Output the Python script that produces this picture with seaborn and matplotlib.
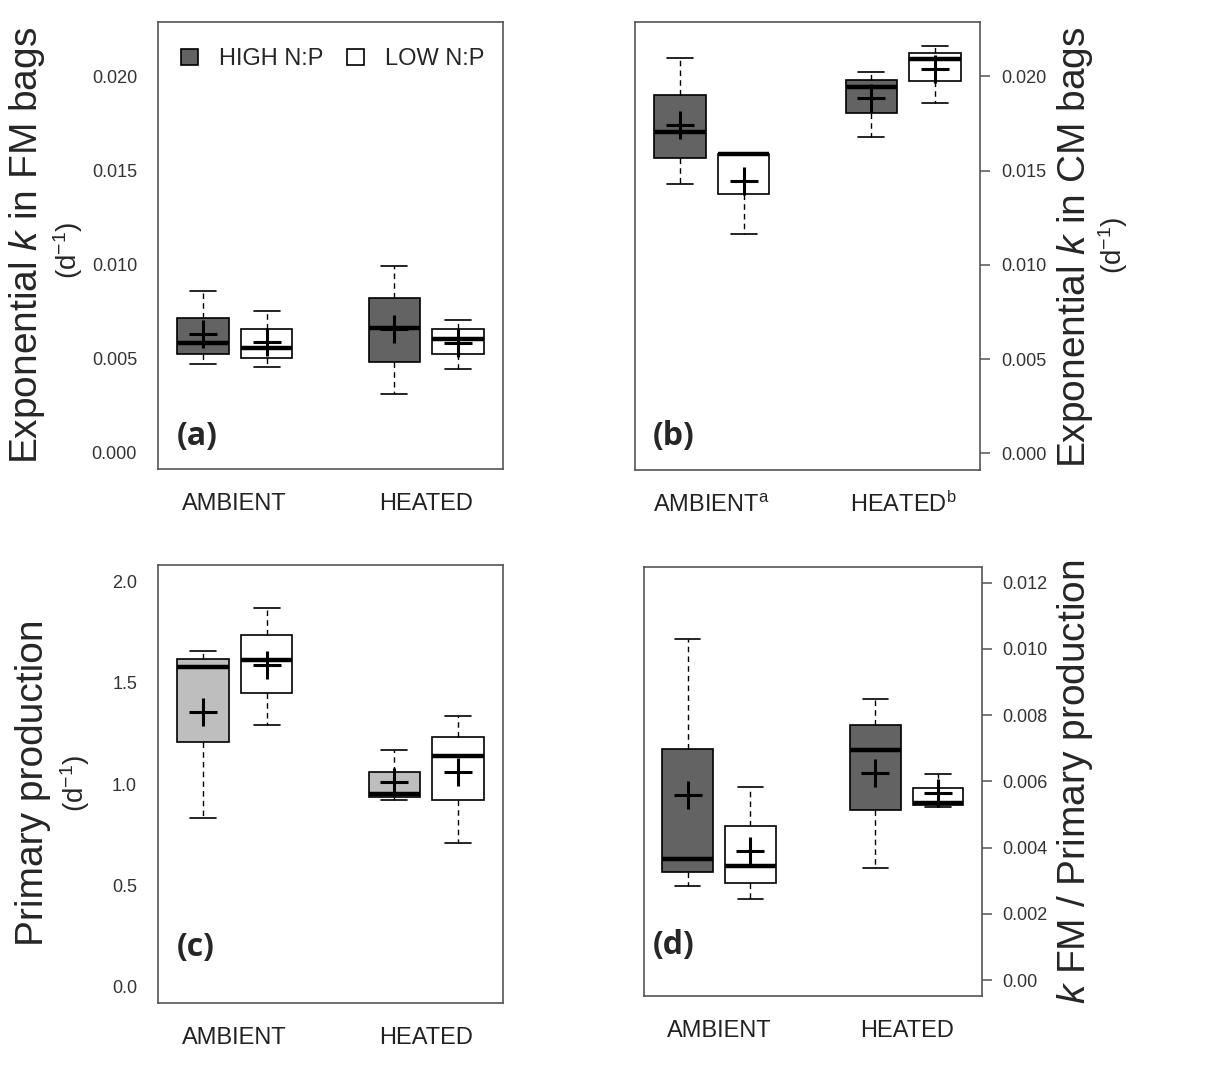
import numpy as np
import pandas as pd
import matplotlib
matplotlib.use("Agg")
import matplotlib.pyplot as plt
import seaborn as sns

# box order: HIGH-AMBIENT, LOW-AMBIENT, HIGH-HEATED, LOW-HEATED
treatment = ["AMBIENT", "AMBIENT", "HEATED", "HEATED"]
ratio = ["HIGH N:P", "LOW N:P", "HIGH N:P", "LOW N:P"]

# (a) exponential k, FM bags
a_lo = [0.00468, 0.00453, 0.00308, 0.00441]
a_q1 = [0.00523, 0.00503, 0.00482, 0.00523]
a_med = [0.00583, 0.00556, 0.00659, 0.00604]
a_q3 = [0.00717, 0.00654, 0.00822, 0.00654]
a_hi = [0.00857, 0.00753, 0.00992, 0.00703]
a_mean = [0.00632, 0.00585, 0.00654, 0.00583]

# (b) exponential k, CM bags
b_lo = [0.01431, 0.01164, 0.01678, 0.01860]
b_q1 = [0.01566, 0.01376, 0.01807, 0.01973]
b_med = [0.01704, 0.01589, 0.01943, 0.02094]
b_q3 = [0.01899, 0.01589, 0.01979, 0.02124]
b_hi = [0.02097, 0.01589, 0.02025, 0.02163]
b_mean = [0.01743, 0.01447, 0.01885, 0.02041]

# (c) primary production
c_lo = [0.834, 1.292, 0.921, 0.708]
c_q1 = [1.207, 1.450, 0.936, 0.921]
c_med = [1.578, 1.611, 0.949, 1.138]
c_q3 = [1.616, 1.736, 1.057, 1.233]
c_hi = [1.654, 1.867, 1.169, 1.335]
c_mean = [1.355, 1.589, 1.012, 1.059]

# (d) k FM / primary production
d_lo = [0.00284, 0.00244, 0.00338, 0.00523]
d_q1 = [0.00325, 0.00294, 0.00515, 0.00529]
d_med = [0.00367, 0.00345, 0.00694, 0.00534]
d_q3 = [0.00698, 0.00464, 0.00771, 0.00579]
d_hi = [0.01031, 0.00583, 0.00850, 0.00623]
d_mean = [0.00559, 0.00391, 0.00626, 0.00564]

a_ticks = [0.000, 0.005, 0.010, 0.015, 0.020]
a_ticklabels = ["0.000", "0.005", "0.010", "0.015", "0.020"]
c_ticks = [0.0, 0.5, 1.0, 1.5, 2.0]
c_ticklabels = ["0.0", "0.5", "1.0", "1.5", "2.0"]
d_ticks = [0.000, 0.002, 0.004, 0.006, 0.008, 0.010, 0.012]
d_ticklabels = ["0.00", "0.002", "0.004", "0.006", "0.008", "0.010", "0.012"]

sns.set_style("white")
plt.rcParams["font.family"] = ["Liberation Sans", "DejaVu Sans"]
plt.rcParams["mathtext.fontset"] = "custom"
plt.rcParams["mathtext.rm"] = "Liberation Sans"
plt.rcParams["mathtext.it"] = "Liberation Sans:italic"
plt.rcParams["mathtext.bf"] = "Liberation Sans:bold"

frame_col = "#555555"
dark = "#636363"
light = "#bebebe"


def make_df(lo, q1, med, q3, hi):
    rows = []
    for i in range(4):
        for v in (lo[i], q1[i], med[i], q3[i], hi[i]):
            rows.append({"treatment": treatment[i], "ratio": ratio[i], "value": v})
    return pd.DataFrame(rows)


def make_means(mean):
    off = {"HIGH N:P": -1 / 6, "LOW N:P": 1 / 6}
    cat = {"AMBIENT": 0, "HEATED": 1}
    return pd.DataFrame({
        "x": [cat[t] + off[r] for t, r in zip(treatment, ratio)],
        "mean": mean,
    })


def draw(ax, df, means, palette, legend=False):
    sns.boxplot(data=df, x="treatment", y="value", hue="ratio", ax=ax,
                palette=palette, saturation=1, width=2 / 3, gap=0.19,
                whis=(0, 100), linecolor="black", linewidth=1.2,
                medianprops={"linewidth": 3.2},
                whiskerprops={"linestyle": (0, (4, 3)), "linewidth": 1.0},
                capprops={"linewidth": 1.2},
                legend=legend)
    sns.scatterplot(data=means, x="x", y="mean", marker="+", s=430,
                    color="black", linewidth=2.2, ax=ax, legend=False, zorder=5)
    ax.set_xlim(-0.4, 1.4)
    ax.set_xlabel("")
    ax.set_ylabel("")
    for sp in ax.spines.values():
        sp.set_color(frame_col)
        sp.set_linewidth(1.2)
    ax.tick_params(axis="x", length=0, pad=17, labelsize=17, colors="#222222")
    ax.tick_params(axis="y", length=7, width=1.1, color=frame_col,
                   labelsize=13, labelcolor="#333333", pad=8)


fig = plt.figure(figsize=(12.15, 10.7), dpi=100)
ax_a = fig.add_axes([0.130, 0.5617, 0.284, 0.4178])
ax_b = fig.add_axes([0.5226, 0.5607, 0.284, 0.4187])
ax_c = fig.add_axes([0.130, 0.0626, 0.284, 0.4093])
ax_d = fig.add_axes([0.530, 0.0692, 0.278, 0.4010])

pal_dark = {"HIGH N:P": dark, "LOW N:P": "white"}
pal_light = {"HIGH N:P": light, "LOW N:P": "white"}

# (a)
draw(ax_a, make_df(a_lo, a_q1, a_med, a_q3, a_hi), make_means(a_mean), pal_dark, legend=True)
ax_a.set_ylim(-0.00088, 0.02288)
ax_a.set_yticks(a_ticks, a_ticklabels)
ax_a.set_xticks([0, 1], ["AMBIENT", "HEATED"])
sns.move_legend(ax_a, "center", bbox_to_anchor=(0.507, 0.917), ncol=2,
                frameon=False, title=None, fontsize=17, handlelength=0.7,
                handleheight=0.7, handletextpad=0.9, columnspacing=1.0)

# (b)
draw(ax_b, make_df(b_lo, b_q1, b_med, b_q3, b_hi), make_means(b_mean), pal_dark)
ax_b.set_ylim(-0.00088, 0.02288)
ax_b.set_yticks(a_ticks, a_ticklabels)
ax_b.yaxis.tick_right()
ax_b.set_xticks([0, 1], ["AMBIENT$^{\\mathrm{a}}$", "HEATED$^{\\mathrm{b}}$"])
ax_b.tick_params(axis="x", pad=30)
for lbl in ax_b.get_xticklabels():
    lbl.set_verticalalignment("baseline")

# (c)
draw(ax_c, make_df(c_lo, c_q1, c_med, c_q3, c_hi), make_means(c_mean), pal_light)
ax_c.set_ylim(-0.08, 2.08)
ax_c.set_yticks(c_ticks, c_ticklabels)
ax_c.set_xticks([0, 1], ["AMBIENT", "HEATED"])

# (d)
draw(ax_d, make_df(d_lo, d_q1, d_med, d_q3, d_hi), make_means(d_mean), pal_dark)
ax_d.set_ylim(-0.00048, 0.01248)
ax_d.set_yticks(d_ticks, d_ticklabels)
ax_d.yaxis.tick_right()
ax_d.set_xticks([0, 1], ["AMBIENT", "HEATED"])

# panel letters
letter_kw = dict(fontsize=23, fontweight="bold", family="Open Sans",
                 ha="left", va="center")
ax_a.text(0.055, 0.072, "(a)", transform=ax_a.transAxes, **letter_kw)
ax_b.text(0.052, 0.074, "(b)", transform=ax_b.transAxes, **letter_kw)
ax_c.text(0.055, 0.126, "(c)", transform=ax_c.transAxes, **letter_kw)
ax_d.text(0.027, 0.117, "(d)", transform=ax_d.transAxes, **letter_kw)

# axis titles
lab_kw = dict(rotation=90, ha="center", va="center")
fig.text(0.0225, 0.771, "Exponential $k$ in FM bags", fontsize=28, **lab_kw)
fig.text(0.0560, 0.766, "(d$^{-1}$)", fontsize=20, **lab_kw)
fig.text(0.8850, 0.769, "Exponential $k$ in CM bags", fontsize=28, **lab_kw)
fig.text(0.9160, 0.771, "(d$^{-1}$)", fontsize=20, **lab_kw)
fig.text(0.0275, 0.268, "Primary production", fontsize=28, **lab_kw)
fig.text(0.0615, 0.268, "(d$^{-1}$)", fontsize=20, **lab_kw)
fig.text(0.8850, 0.269, "$k$ FM / Primary production", fontsize=28, **lab_kw)

fig.savefig("out.png", dpi=100)
